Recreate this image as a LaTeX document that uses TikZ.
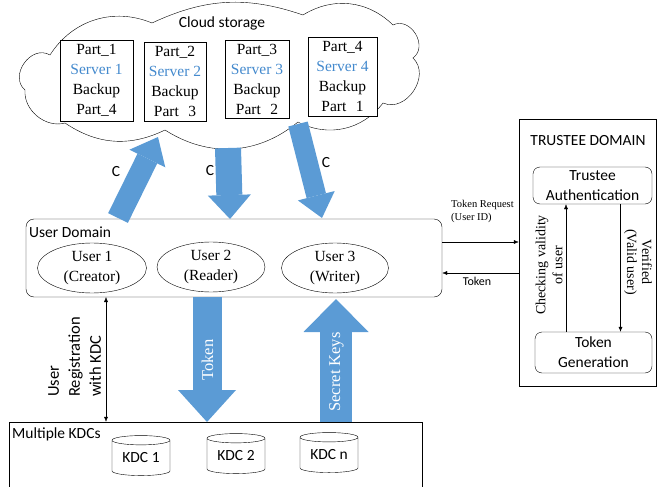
\documentclass[tikz,border=0pt]{standalone}
\usepackage{fontspec}
\setmainfont{Liberation Serif}
\newfontfamily\calibri{Carlito}
\usetikzlibrary{shapes.geometric,arrows.meta}
\definecolor{arrowblue}{RGB}{91,155,213}
\definecolor{serverblue}{RGB}{68,138,206}

\begin{document}
\begin{tikzpicture}[x=1pt,y=-1pt,
  serif/.style={font=\fontsize{15.5}{20}\selectfont, inner sep=0pt},
  sans/.style={font=\calibri\fontsize{15.5}{20}\selectfont, inner sep=0pt},
  tiny/.style={font=\fontsize{10.5}{13}\selectfont, inner sep=0pt},
  tinysans/.style={font=\calibri\fontsize{12}{14}\selectfont, inner sep=0pt},
  partbox/.style={draw, fill=white, serif, align=center},
  userell/.style={draw, ellipse, serif, align=center, inner sep=0pt},
  roundbox/.style={draw, rounded corners=7pt, sans, align=center},
  kdc/.style={draw, cylinder, shape border rotate=90, aspect=0.25, sans, minimum width=58pt, minimum height=40pt, inner sep=0pt},
  blk/.style args={#1/#2/#3}{draw=arrowblue, line width=#1, -{Triangle[length=#2, width=#3, line width=0pt]}},
  thinarrow/.style={-{Latex[length=5pt, width=4pt]}, thin}
]
  \useasboundingbox (0,0) rectangle (659,487);
  \clip (0,0) rectangle (659,487);

  % Cloud storage with the four servers
  \draw (50,55) to[bend left=40] (152,23) to[bend left=22] (303,15)
    to[bend left=38] (393,25) to[bend left=85, looseness=1.3] (413,58)
    to[bend left=80, looseness=1.2] (383,103) to[bend left=40] (298,122)
    to[bend left=36] (165,130) to[bend left=30] (65,123)
    to[bend left=55] (25,90) to[bend left=85, looseness=1.3] cycle;
  \node[sans, anchor=base] (cs) at (222,28) {Cloud storage};
  \node[partbox, minimum width=73pt, minimum height=81pt] (p1) at (96.5,80.5)
    {Part\_1\\\textcolor{serverblue}{Server 1}\\Backup\\Part\_4};
  \node[partbox, minimum width=62pt, minimum height=79pt] (p2) at (175,81.5)
    {Part\_2\\\textcolor{serverblue}{Server 2}\\Backup\\Part\hspace{0.6em}3};
  \node[partbox, minimum width=64pt, minimum height=78pt] (p3) at (257,79)
    {Part\_3\\\textcolor{serverblue}{Server 3}\\Backup\\Part\hspace{0.6em}2};
  \node[partbox, minimum width=69pt, minimum height=79pt] (p4) at (342.5,76.5)
    {Part\_4\\\textcolor{serverblue}{Server 4}\\Backup\\Part\hspace{0.6em}1};

  % User domain
  \node[draw, rounded corners=8pt, minimum width=416pt, minimum height=78pt] (ud) at (234,258) {};
  \node[sans, anchor=base west] (udl) at (29,237) {User Domain};
  \node[userell, minimum width=109pt, minimum height=50pt] (u1) at (92,268) {User 1\\(Creator)};
  \node[userell, minimum width=108pt, minimum height=50pt] (u2) at (211,267) {User 2\\(Reader)};
  \node[userell, minimum width=107pt, minimum height=50pt] (u3) at (335,268) {User 3\\(Writer)};

  % Trustee domain
  \node[draw, minimum width=137pt, minimum height=267pt] (td) at (587.5,252.5) {};
  \node[sans, anchor=base] (tdl) at (588,145) {TRUSTEE DOMAIN};
  \node[roundbox, minimum width=119pt, minimum height=37pt] (auth) at (592.5,185.5) {Trustee\\Authentication};
  \node[roundbox, minimum width=117pt, minimum height=41pt] (gen) at (593.5,352.5) {Token\\Generation};

  % Multiple KDCs
  \node[draw, minimum width=413pt, minimum height=100pt] (kdcs) at (215.5,472) {};
  \node[sans, anchor=base west] (kdcl) at (12,438) {Multiple KDCs};
  \node[kdc] (k1) at (141,458) {KDC 1};
  \node[kdc] (k2) at (236,456) {KDC 2};
  \node[kdc] (kn) at (329,455) {KDC n};

  % Block arrows between cloud and users
  \coordinate (c1a) at (118,218);
  \coordinate (c1b) at (158,137);
  \coordinate (c2a) at (228,148);
  \coordinate (c2b) at (230,219);
  \coordinate (c3a) at (298,124);
  \coordinate (c3b) at (322,218);
  \draw[blk=22pt/24pt/40pt] (c1a) -- (c1b);
  \draw[blk=26pt/24pt/43pt] (c2a) -- (c2b);
  \draw[blk=20pt/23pt/38pt] (c3a) -- (c3b);
  \node[sans] (l1) at (116,172) {C};
  \node[sans] (l2) at (210,171) {C};
  \node[sans] (l3) at (326,163) {C};

  % Token and secret keys
  \coordinate (tka) at (207,297);
  \coordinate (tkb) at (207,422);
  \coordinate (ska) at (336,422);
  \coordinate (skb) at (336,299);
  \draw[blk=29pt/32pt/58pt] (tka) -- (tkb);
  \draw[blk=32pt/33pt/65pt] (ska) -- (skb);
  \node[serif, white, rotate=90, font=\fontsize{16.5}{20}\selectfont] (tkl) at (207.5,360) {Token};
  \node[serif, white, rotate=90, font=\fontsize{16.5}{20}\selectfont] (skl) at (336.5,372) {Secret Keys};

  % Registration
  \coordinate (rg) at (106,297);
  \draw[{Latex[length=5pt, width=4pt]}-{Latex[length=5pt, width=4pt]}, thin] (rg) -- (rg |- kdcs.north);
  \node[sans, rotate=90, anchor=north west, align=left, font=\calibri\fontsize{16.5}{21}\selectfont] (rgl) at (48,397)
    {User\\Registration\\with KDC};

  % Token request between domains
  \coordinate (tr) at (442,242);
  \coordinate (tk) at (519,273);
  \draw[thinarrow] (tr) -- (tr -| td.west);
  \draw[thinarrow] (tk) -- (tk -| ud.east);
  \node[tiny, anchor=base west, align=left] (trl) at (451,220) {Token Request\\(User ID)};
  \node[tinysans, anchor=base] (tkl2) at (477,285) {Token};

  % Inside trustee domain
  \coordinate (ck) at ([xshift=-27.5pt]gen.north);
  \coordinate (vf) at ([xshift=28pt]auth.south);
  \draw[thinarrow] (ck) -- (ck |- auth.south);
  \draw[thinarrow] (vf) -- (vf |- gen.north);
  \node[serif, rotate=90, align=center, font=\fontsize{14}{17}\selectfont] (ckl) at (549,265) {Checking validity\\of user};
  \node[serif, rotate=-90, align=center, font=\fontsize{14}{15}\selectfont] (vfl) at (638,262) {Verified\\(Valid user)};
\end{tikzpicture}
\end{document}
